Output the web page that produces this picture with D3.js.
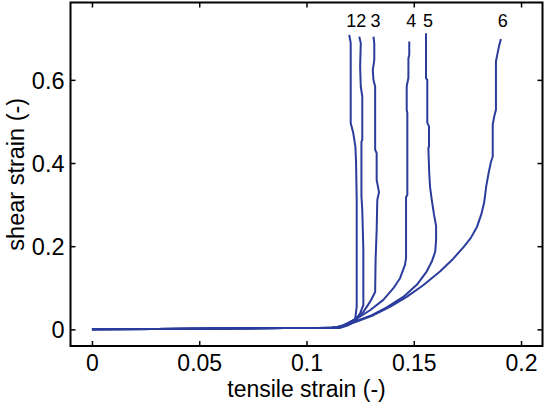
<!DOCTYPE html>
<html>
<head>
<meta charset="utf-8">
<script src="https://cdn.jsdelivr.net/npm/d3@7"></script>
<style>
  html, body { margin: 0; padding: 0; background: #fff; }
  svg { display: block; font-family: "Liberation Sans", Arial, Helvetica, sans-serif; }
</style>
</head>
<body>
<svg id="chart" width="544" height="403"></svg>
<script>
// shared elastic part (tensile strain, shear strain)
const basePart = [[0, 0], [0.03, 0.001], [0.06, 0.002], [0.09, 0.003], [0.105, 0.0035], [0.112, 0.004]];

const curve1 = [[0.1156, 0.004], [0.1184, 0.009], [0.1212, 0.015], [0.1226, 0.022], [0.1234, 0.054],
  [0.1234, 0.191], [0.1234, 0.311], [0.1231, 0.400], [0.1228, 0.439], [0.1218, 0.472],
  [0.1206, 0.4965], [0.1206, 0.689], [0.1199, 0.708]];
const curve2 = [[0.1156, 0.004], [0.1194, 0.010], [0.1226, 0.018], [0.1250, 0.039], [0.1265, 0.058],
  [0.1265, 0.191], [0.1260, 0.287], [0.1256, 0.321], [0.1256, 0.451], [0.1260, 0.456],
  [0.1260, 0.560], [0.1253, 0.584], [0.1250, 0.632], [0.1253, 0.688], [0.1246, 0.704]];
const curve3 = [[0.1147, 0.004], [0.1180, 0.010], [0.1218, 0.022], [0.1265, 0.042], [0.1296, 0.066],
  [0.1320, 0.090], [0.1322, 0.167], [0.1327, 0.239], [0.1330, 0.311], [0.1338, 0.330],
  [0.1327, 0.359], [0.1327, 0.424], [0.1320, 0.432], [0.1320, 0.584], [0.1312, 0.600],
  [0.1309, 0.624], [0.1316, 0.648], [0.1316, 0.688], [0.1312, 0.704]];
const curve4 = [[0.1140, 0.005], [0.1172, 0.010], [0.1234, 0.026], [0.1296, 0.046], [0.1358, 0.071],
  [0.1405, 0.099], [0.1436, 0.123], [0.1459, 0.155], [0.1464, 0.172], [0.1464, 0.318],
  [0.1470, 0.323], [0.1470, 0.520], [0.1467, 0.528], [0.1467, 0.584], [0.1475, 0.605],
  [0.1475, 0.652], [0.1479, 0.660], [0.1479, 0.692]];
const curve5 = [[0.1156, 0.007], [0.1203, 0.015], [0.1296, 0.032], [0.1374, 0.053], [0.1451, 0.078],
  [0.1514, 0.107], [0.1560, 0.139], [0.1584, 0.163], [0.1600, 0.187], [0.1604, 0.215],
  [0.1604, 0.249], [0.1594, 0.277], [0.1584, 0.311], [0.1576, 0.342], [0.1572, 0.376],
  [0.1568, 0.436], [0.1571, 0.439], [0.1571, 0.488], [0.1563, 0.497], [0.1563, 0.600],
  [0.1557, 0.604], [0.1557, 0.712]];
const curve6 = [[0.1140, 0.005], [0.1172, 0.009], [0.1234, 0.019], [0.1312, 0.034], [0.1389, 0.054],
  [0.1467, 0.078], [0.1544, 0.106], [0.1622, 0.139], [0.1684, 0.170], [0.1731, 0.197],
  [0.1766, 0.220], [0.1795, 0.247], [0.1815, 0.277], [0.1828, 0.305], [0.1838, 0.345],
  [0.1850, 0.379], [0.1860, 0.403], [0.1868, 0.415], [0.1868, 0.492], [0.1875, 0.512],
  [0.1883, 0.528], [0.1883, 0.644], [0.1889, 0.660], [0.1897, 0.680], [0.1906, 0.698]];

const curveNames = ['1', '2', '3', '4', '5', '6'];
const curves = [curve1, curve2, curve3, curve4, curve5, curve6];

const xTicks = [0, 0.05, 0.1, 0.15, 0.2];
const yTicks = [0, 0.2, 0.4, 0.6];
const xDomain = [-0.01, 0.21];
const yDomain = [-0.04, 0.786];

const svg = d3.select('#chart');
const mLeft = 70.5, mRight = 542.5, mTop = 2.5, mBottom = 346;

const x = d3.scaleLinear().domain(xDomain).range([mLeft, mRight]);
const y = d3.scaleLinear().domain(yDomain).range([mBottom, mTop]);

const lineColor = '#2a3c9c';
const line = d3.line().x(d => x(d[0])).y(d => y(d[1]));

const plot = svg.append('g').attr('class', 'plot');
plot.selectAll('path')
  .data(curves)
  .join('path')
  .attr('d', d => line(basePart.concat(d)))
  .attr('fill', 'none')
  .attr('stroke', lineColor)
  .attr('stroke-width', 2)
  .attr('stroke-linejoin', 'round');

// labels above the curve ends
svg.append('g').attr('class', 'labels')
  .selectAll('text')
  .data(curves)
  .join('text')
  .attr('x', d => x(d[d.length - 1][0]) + 2)
  .attr('y', 27)
  .attr('text-anchor', 'middle')
  .attr('font-size', 18)
  .attr('fill', '#000')
  .text((d, i) => curveNames[i]);

// axes, ticks inward on all four sides
const tick = 5;
const gx = svg.append('g').attr('transform', `translate(0,${mBottom})`)
  .call(d3.axisBottom(x).tickValues(xTicks).tickSizeInner(-tick).tickSizeOuter(0).tickFormat(d3.format('')));
gx.select('.domain').remove();
gx.selectAll('.tick text').attr('y', 25).attr('dy', 0).attr('font-size', 23).attr('fill', '#000');

const gy = svg.append('g').attr('transform', `translate(${mLeft},0)`)
  .call(d3.axisLeft(y).tickValues(yTicks).tickSizeInner(-tick).tickSizeOuter(0).tickFormat(d3.format('')));
gy.select('.domain').remove();
gy.selectAll('.tick text').attr('x', -6).attr('dy', '0.35em').attr('font-size', 23.5).attr('fill', '#000');

const gt = svg.append('g').attr('transform', `translate(0,${mTop})`)
  .call(d3.axisTop(x).tickValues(xTicks).tickSizeInner(-tick).tickSizeOuter(0).tickFormat(''));
gt.select('.domain').remove();

const gr = svg.append('g').attr('transform', `translate(${mRight},0)`)
  .call(d3.axisRight(y).tickValues(yTicks).tickSizeInner(-tick).tickSizeOuter(0).tickFormat(''));
gr.select('.domain').remove();

svg.selectAll('.tick line').attr('stroke', '#000').attr('stroke-width', 1.5);

svg.append('rect')
  .attr('x', mLeft).attr('y', mTop)
  .attr('width', mRight - mLeft).attr('height', mBottom - mTop)
  .attr('fill', 'none').attr('stroke', '#000').attr('stroke-width', 2);

svg.append('text')
  .attr('x', (mLeft + mRight) / 2).attr('y', 397)
  .attr('text-anchor', 'middle').attr('font-size', 23)
  .text('tensile strain (-)');

svg.append('text')
  .attr('transform', `translate(24,${(mTop + mBottom) / 2}) rotate(-90)`)
  .attr('text-anchor', 'middle').attr('font-size', 23.5)
  .text('shear strain (-)');
</script>
</body>
</html>
